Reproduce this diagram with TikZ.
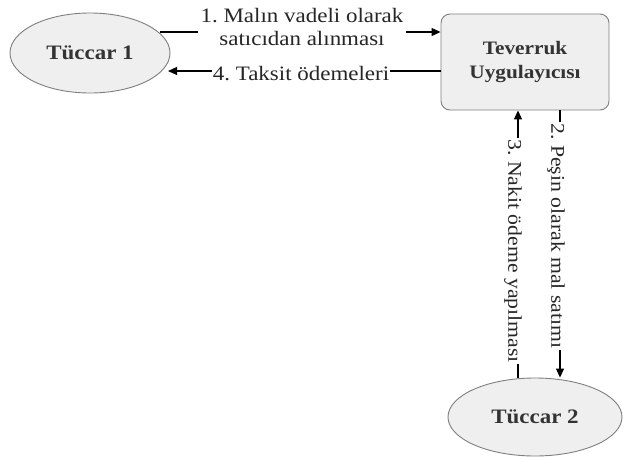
\documentclass[tikz,border=0pt]{standalone}
\usepackage{fontspec}
\setmainfont{Liberation Serif}[FakeStretch=1.12]
\usetikzlibrary{arrows.meta,shapes.geometric}
\definecolor{shapefill}{HTML}{EFEFEF}
\definecolor{shapeline}{HTML}{7F7F7F}
\tikzset{
  x=1pt,y=-1pt,
  ent/.style={ellipse,draw=shapeline,fill=shapefill,line width=0.9pt,font=\fontsize{20.5}{22}\selectfont\bfseries,text=black!80},
  proc/.style={rectangle,rounded corners=9pt,draw=shapeline,fill=shapefill,line width=0.9pt,font=\fontsize{19}{24}\selectfont\bfseries,text=black!80,align=center},
  flow/.style={line width=1.1pt,-{Triangle[length=9pt,width=8pt]}},
  lbl/.style={fill=white,inner sep=1pt,font=\fontsize{20.5}{23}\selectfont,text=black!85,align=center},
  vlbl/.style={lbl,rotate=-90,font=\fontsize{19.4}{23}\selectfont},
}
\begin{document}
\frenchspacing
\begin{tikzpicture}
\useasboundingbox (0,0) rectangle (633,456);
\node[ent,minimum width=160pt,minimum height=80pt] (t1) at (90,53) {Tüccar 1};
\node[proc,minimum width=168pt,minimum height=96pt] (tv) at (525,62) {Teverruk\\Uygulayıcısı};
\node[ent,minimum width=174pt,minimum height=78pt] (t2) at (535,417) {Tüccar 2};
% arrow 1
\coordinate (a1s) at (160,32);
\draw[flow] (a1s) -- (tv.west |- a1s);
\node[lbl,inner sep=3pt] (l1) at (302,27) {1. Malın vadeli olarak\\satıcıdan alınması};
% arrow 4
\coordinate (a4s) at (441,71);
\coordinate (a4e) at (168,71);
\draw[flow] (a4s) -- (a4e);
\node[lbl,anchor=north,inner sep=1pt] (l4) at (301,65) {4. Taksit ödemeleri};
% arrow 3 (up)
\coordinate (a3b) at (518,378);
\draw[flow] (a3b) -- (tv.south -| a3b);
\node[vlbl] (l3) at (513,251) {3. Nakit ödeme yapılması};
% arrow 2 (down)
\coordinate (a2t) at (560,110);
\draw[flow] (a2t) -- (t2.north -| a2t);
\node[vlbl] (l2) at (556,236) {2. Peşin olarak mal satımı};
\end{tikzpicture}
\end{document}
